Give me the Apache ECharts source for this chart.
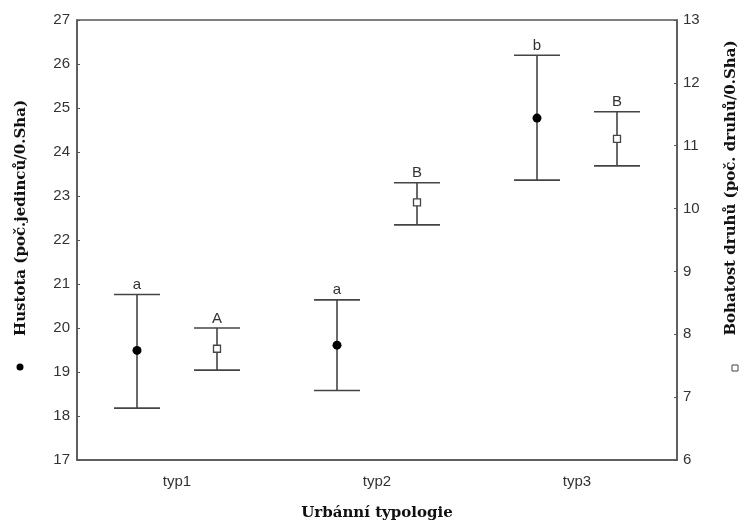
<!DOCTYPE html>
<html>
<head>
<meta charset="utf-8">
<script src="https://cdn.jsdelivr.net/npm/echarts@6/dist/echarts.min.js"></script>
<style>
    html, body { margin: 0; padding: 0; background: #fff; }
    #chart { width: 742px; height: 526px; }
</style>
</head>
<body>
<div id="chart"></div>
<script>
    // data
    const categories = ['typ1', 'typ2', 'typ3'];

    // Hustota (left axis) - mean, lower and upper whisker
    const hustotaMean = [19.49, 19.61, 24.77];
    const hustotaLow = [18.18, 18.58, 23.36];
    const hustotaHigh = [20.76, 20.64, 26.20];
    const hustotaLetters = ['a', 'a', 'b'];

    // Bohatost (right axis)
    const bohatostMean = [7.77, 10.10, 11.11];
    const bohatostLow = [7.43, 9.74, 10.68];
    const bohatostHigh = [8.10, 10.41, 11.54];
    const bohatostLetters = ['A', 'B', 'B'];

    const lineColor = '#444';
    const textColor = '#333';
    const serifBold = 'bold 15px "DejaVu Serif", serif';

    function makeData(low, high, mean) {
        return categories.map((c, i) => [i, low[i], high[i], mean[i]]);
    }

    // whisker + caps + marker + letter, shifted sideways inside the category
    function errorBar(offset, marker, letters) {
        return function (params, api) {
            const i = api.value(0);
            const hi = api.coord([i, api.value(2)]);
            const lo = api.coord([i, api.value(1)]);
            const mid = api.coord([i, api.value(3)]);
            const x = hi[0] + offset;
            const half = 23;
            const st = { stroke: lineColor, lineWidth: 1.6 };
            const children = [
                { type: 'line', shape: { x1: x, y1: hi[1], x2: x, y2: lo[1] }, style: st },
                { type: 'line', shape: { x1: x - half, y1: hi[1], x2: x + half, y2: hi[1] }, style: st },
                { type: 'line', shape: { x1: x - half, y1: lo[1], x2: x + half, y2: lo[1] }, style: st },
                {
                    type: 'text',
                    style: {
                        x: x, y: hi[1] - 2,
                        text: letters[params.dataIndex],
                        align: 'center', verticalAlign: 'bottom',
                        fill: textColor,
                        font: '15px "Liberation Sans", Arial, sans-serif'
                    }
                }
            ];
            if (marker === 'circle') {
                children.push({ type: 'circle', shape: { cx: x, cy: mid[1], r: 4.5 }, style: { fill: '#000' } });
            } else {
                children.push({ type: 'rect', shape: { x: x - 3.5, y: mid[1] - 3.5, width: 7, height: 7 },
                    style: { fill: '#fff', stroke: lineColor, lineWidth: 1.3 } });
            }
            return { type: 'group', children: children };
        };
    }

    const chart = echarts.init(document.getElementById('chart'));

    const axisStyle = { lineStyle: { color: '#555', width: 1.5 } };
    const tickFont = { color: textColor, fontSize: 15, fontFamily: '"Liberation Sans", Arial, sans-serif' };

    const option = {
        animation: false,
        backgroundColor: '#fff',
        grid: {
            left: 77, right: 65, top: 20, bottom: 64,
            show: true, borderColor: '#555', borderWidth: 1.5
        },
        xAxis: {
            type: 'category',
            data: categories,
            boundaryGap: true,
            axisLine: axisStyle,
            axisTick: { alignWithLabel: true, inside: true, length: 3, lineStyle: { color: '#555' } },
            axisLabel: Object.assign({ margin: 14 }, tickFont),
            name: 'Urbánní typologie',
            nameLocation: 'middle',
            nameGap: 46,
            nameTextStyle: { color: '#111', fontSize: 15, fontWeight: 'bold', fontFamily: '"DejaVu Serif", serif' }
        },
        yAxis: [
            {
                type: 'value',
                min: 17, max: 27, interval: 1,
                position: 'left',
                splitLine: { show: false },
                axisLine: Object.assign({ show: true }, axisStyle),
                axisTick: { show: true, inside: true, length: 3, lineStyle: { color: '#555' } },
                axisLabel: Object.assign({ margin: 7 }, tickFont)
            },
            {
                type: 'value',
                min: 6, max: 13, interval: 1,
                position: 'right',
                splitLine: { show: false },
                axisLine: Object.assign({ show: true }, axisStyle),
                axisTick: { show: true, inside: true, length: 3, lineStyle: { color: '#555' } },
                axisLabel: Object.assign({ margin: 6 }, tickFont)
            }
        ],
        graphic: [
            // left axis title with its legend dot
            { type: 'text', x: 21, y: 218, rotation: Math.PI / 2,
              style: { text: 'Hustota (poč.jedinců/0.Sha)', font: serifBold, fill: '#111', align: 'center', verticalAlign: 'middle' } },
            { type: 'circle', shape: { cx: 20, cy: 367, r: 3.5 }, style: { fill: '#000' } },
            // right axis title with its legend square
            { type: 'text', x: 731, y: 188, rotation: Math.PI / 2,
              style: { text: 'Bohatost druhů (poč. druhů/0.Sha)', font: serifBold, fill: '#111', align: 'center', verticalAlign: 'middle' } },
            { type: 'rect', shape: { x: 732, y: 365, width: 6, height: 6 }, style: { fill: '#fff', stroke: '#444', lineWidth: 1 } }
        ],
        series: [
            {
                name: 'Hustota',
                type: 'custom',
                yAxisIndex: 0,
                renderItem: errorBar(-40, 'circle', hustotaLetters),
                encode: { x: 0, y: [1, 2, 3] },
                data: makeData(hustotaLow, hustotaHigh, hustotaMean)
            },
            {
                name: 'Bohatost',
                type: 'custom',
                yAxisIndex: 1,
                renderItem: errorBar(40, 'square', bohatostLetters),
                encode: { x: 0, y: [1, 2, 3] },
                data: makeData(bohatostLow, bohatostHigh, bohatostMean)
            }
        ]
    };

    chart.setOption(option);
</script>
</body>
</html>
